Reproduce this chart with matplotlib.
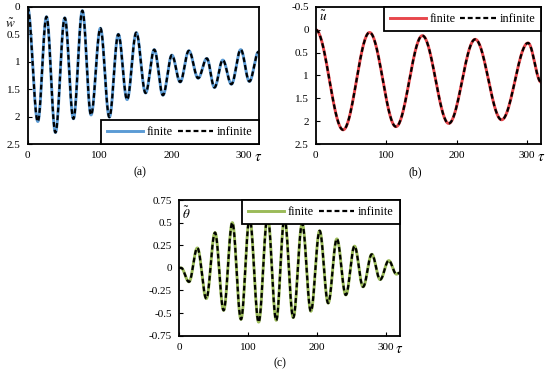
import numpy as np
import matplotlib
matplotlib.use("Agg")
import matplotlib.pyplot as plt

plt.rcParams["font.family"] = ["Liberation Serif", "DejaVu Serif"]
plt.rcParams["mathtext.fontset"] = "stix"
plt.rcParams["axes.unicode_minus"] = False

# extrema (tau, value); curves pass smoothly between them
w_tau = [0, 14.3, 26.3, 38.7, 51.6, 63.6, 76.0, 88.0, 101.0, 113.4, 125.8, 138.0, 150.7,
         163.6, 175.6, 187.6, 200.0, 211.5, 223.5, 236.4, 248.4, 259.0, 270.5, 282.5,
         295.4, 307.4, 320.0]
w_val = [0.0, 2.09, 0.18, 2.29, 0.20, 2.04, 0.07, 1.97, 0.39, 2.01, 0.50, 1.69, 0.47,
         1.57, 0.78, 1.61, 0.88, 1.37, 0.80, 1.30, 0.94, 1.47, 0.97, 1.41,
         0.78, 1.36, 0.82]

u_tau = [0, 38.9, 76.4, 113.9, 151.4, 188.8, 226.3, 263.8, 301.3, 320.0]
u_val = [0.0, 2.19, 0.06, 2.12, 0.13, 2.05, 0.21, 1.97, 0.29, 1.15]

th_tau = [0, 3.0, 14.5, 26.6, 39.6, 52.2, 64.7, 77.3, 89.9, 102.4, 115.5, 128.5, 141.0,
          153.0, 165.7, 178.7, 191.3, 204.0, 216.4, 229.0, 242.0, 254.6, 267.0, 279.7,
          291.8, 304.3, 315.5, 320.0]
th_val = [0.0, 0.0, -0.155, 0.22, -0.34, 0.39, -0.47, 0.50, -0.57, 0.55, -0.60, 0.57, -0.58,
          0.55, -0.55, 0.49, -0.48, 0.41, -0.39, 0.32, -0.30, 0.24, -0.21, 0.15,
          -0.13, 0.08, -0.07, -0.055]

w_ticks = [0, 0.5, 1, 1.5, 2, 2.5]
u_ticks = [-0.5, 0, 0.5, 1, 1.5, 2, 2.5]
th_ticks = [-0.75, -0.5, -0.25, 0, 0.25, 0.5, 0.75]
x_ticks = [0, 100, 200, 300]


def smooth_through(tau, val, n=40):
    """Half-cosine segments between successive extrema."""
    xs, ys = [], []
    for i in range(len(tau) - 1):
        s = np.linspace(0, 1, n, endpoint=False)
        xs.append(tau[i] + (tau[i + 1] - tau[i]) * s)
        ys.append(val[i] + (val[i + 1] - val[i]) * (1 - np.cos(np.pi * s)) / 2)
    xs.append([tau[-1]])
    ys.append([val[-1]])
    return np.concatenate(xs), np.concatenate(ys)


def fmt(v):
    return f"{v:g}"


def draw(ax, tau, val, color, yticks, ylim, invert, ylab, ylab_xy, loc, leg_anchor):
    x, y = smooth_through(tau, val)
    ax.plot(x, y, color=color, lw=2.1, label="finite")
    ax.plot(x, y, color="black", lw=1.6, ls=(0, (2.2, 1.3)), label="infinite")
    ax.set_xlim(0, 320)
    ax.set_ylim(ylim)
    if invert:
        ax.invert_yaxis()
    ax.set_xticks(x_ticks)
    ax.set_xticklabels([fmt(t) for t in x_ticks])
    ax.set_yticks(yticks)
    ax.set_yticklabels([fmt(t) for t in yticks])
    ax.tick_params(direction="in", length=3, width=0.8, labelsize=8, pad=5)
    for sp in ax.spines.values():
        sp.set_linewidth(1.3)
    ax.text(ylab_xy[0], ylab_xy[1], ylab, transform=ax.transAxes, fontsize=9.5,
            ha="center", va="center")
    ax.annotate(r"$\tau$", xy=(1, 0), xycoords="axes fraction", xytext=(0, -10),
                textcoords="offset points", ha="center", va="center", fontsize=10.5)
    leg = ax.legend(ncol=2, loc=loc, bbox_to_anchor=leg_anchor, fontsize=8.8,
                    frameon=True, fancybox=False, edgecolor="black", framealpha=1,
                    handlelength=2.9, columnspacing=0.4, handletextpad=0.3,
                    borderpad=0.5, borderaxespad=0)
    leg.get_frame().set_linewidth(1.3)


fig = plt.figure(figsize=(5.5, 3.81), dpi=100)
ax_a = fig.add_axes([0.050, 0.622, 0.420, 0.360])
ax_b = fig.add_axes([0.574, 0.622, 0.410, 0.360])
ax_c = fig.add_axes([0.3255, 0.119, 0.401, 0.356])

draw(ax_a, w_tau, w_val, "#5B9BD5", w_ticks, (0, 2.5), True,
     r"$\tilde{w}$", (-0.076, 0.87), "lower right", (1, 0))
draw(ax_b, u_tau, u_val, "#E8474C", u_ticks, (-0.5, 2.5), True,
     r"$\tilde{u}$", (0.035, 0.93), "upper right", (1, 1))
draw(ax_c, th_tau, th_val, "#9BBB59", th_ticks, (-0.75, 0.75), False,
     r"$\tilde{\theta}$", (0.035, 0.9), "upper right", (1, 1))

fig.text(140 / 550, 1 - 172 / 381, "(a)", ha="center", va="center", fontsize=8.5)
fig.text(415 / 550, 1 - 172 / 381, "(b)", ha="center", va="center", fontsize=8.5)
fig.text(280 / 550, 1 - 363 / 381, "(c)", ha="center", va="center", fontsize=8.5)

fig.savefig("out.png", dpi=100)
